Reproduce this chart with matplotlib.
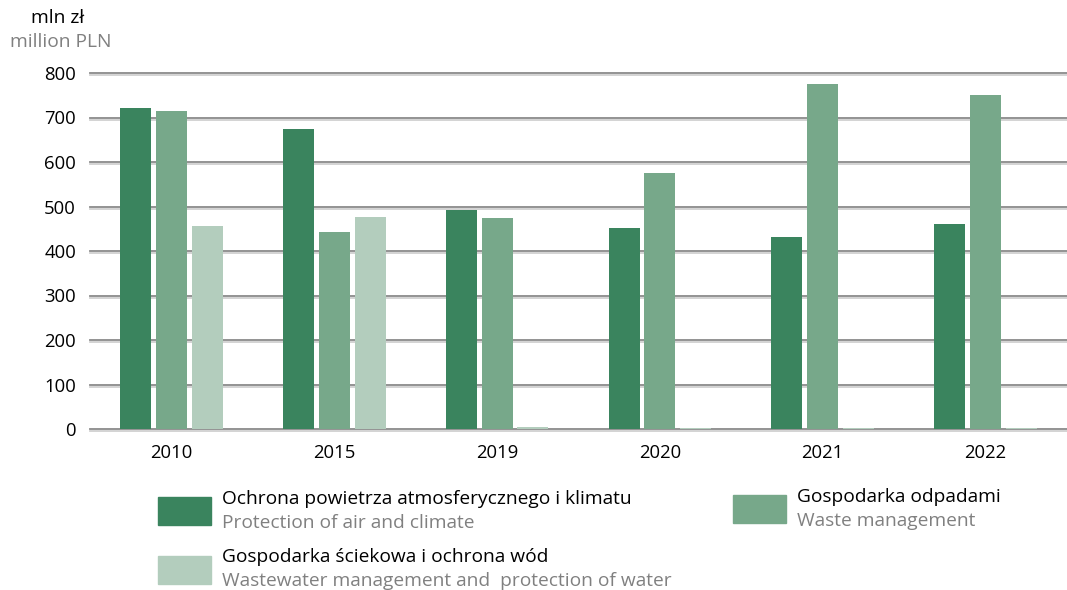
import matplotlib.pyplot as plt
import matplotlib.patheffects as pe
from matplotlib.patches import Rectangle
import numpy as np

# ============== Data ==============
YEARS = ['2010', '2015', '2019', '2020', '2021', '2022']
AIR_CLIMATE = [721, 674, 492, 452, 431, 461]
WASTE = [715, 443, 474, 575, 775, 751]
WASTEWATER = [456, 476, 5, 2, 2, 2]

SERIES_PL = ['Ochrona powietrza atmosferycznego i klimatu',
             'Gospodarka odpadami',
             'Gospodarka ściekowa i ochrona wód']
SERIES_EN = ['Protection of air and climate',
             'Waste management',
             'Wastewater management and  protection of water']
COLORS = ['#3a845e', '#77a88a', '#b3cdbd']
Y_TICKS = [0, 100, 200, 300, 400, 500, 600, 700, 800]

# ============== Style ==============
plt.rcParams['font.family'] = ['Open Sans', 'DejaVu Sans']
FS_TICK = 13.3
FS = 13.8
GREY_TXT = '#808080'

W, H = 1067, 590
fig = plt.figure(figsize=(W / 100, H / 100), dpi=100)
ax = fig.add_axes([90 / W, 1 - 429 / H, 1 - 90 / W, (429 - 73) / H])

x = np.arange(len(YEARS))
bw = 0.19
step = 0.22
for i, vals in enumerate([AIR_CLIMATE, WASTE, WASTEWATER]):
    ax.bar(x + (i - 1) * step, vals, width=bw, color=COLORS[i], zorder=3,
           clip_on=False)

ax.set_xlim(-0.5, len(YEARS) - 0.5)
ax.set_ylim(0, 800)
ax.set_yticks(Y_TICKS)
ax.set_xticks(x)
ax.set_xticklabels(YEARS)
ax.tick_params(axis='both', length=0, labelsize=FS_TICK, colors='black')
ax.tick_params(axis='y', pad=10)
ax.tick_params(axis='x', pad=11)
for s in ax.spines.values():
    s.set_visible(False)

# gridlines with a soft shadow underneath
for v in Y_TICKS:
    ax.axhline(v, color='#8a8a8a', lw=1.3, zorder=1, clip_on=False,
               path_effects=[pe.SimpleLineShadow(offset=(0, -1.5),
                                                 shadow_color='#d0d0d0', alpha=1),
                             pe.Normal()])

# unit labels
fig.text(58 / W, 1 - 18 / H, 'mln zł', ha='center', va='center',
         fontsize=FS, color='black')
fig.text(61 / W, 1 - 42 / H, 'million PLN', ha='center', va='center',
         fontsize=FS, color=GREY_TXT)

# legend drawn by hand (two-line labels in two colours)
legend_pos = [(158, 497, 222, 499), (733, 495, 797, 497), (158, 556, 222, 557)]
for i, (px, py, tx, ty) in enumerate(legend_pos):
    fig.patches.append(Rectangle((px / W, 1 - (py + 28) / H), 53 / W, 28 / H,
                                 transform=fig.transFigure, color=COLORS[i]))
    fig.text(tx / W, 1 - ty / H, SERIES_PL[i], ha='left', va='center',
             fontsize=FS, color='black')
    fig.text(tx / W, 1 - (ty + 24) / H, SERIES_EN[i], ha='left', va='center',
             fontsize=FS, color=GREY_TXT)

fig.savefig('out.png', dpi=100)
